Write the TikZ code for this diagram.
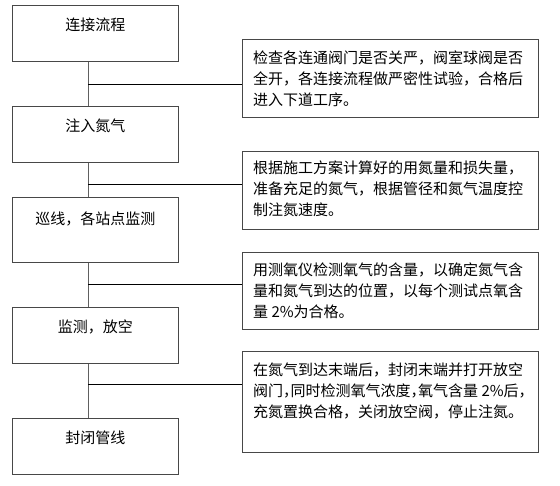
\documentclass[tikz,border=0pt]{standalone}
\usepackage{fontspec}
\usepackage{tikz}
\usetikzlibrary{positioning}
\newfontfamily\cjk{Noto Sans CJK SC}
\newfontfamily\cjkhalt[RawFeature=+halt]{Noto Sans CJK SC}
\definecolor{framegray}{RGB}{72, 72, 72}
\definecolor{linkgray}{RGB}{96, 96, 96}

\begin{document}
\begin{tikzpicture}[
    x=1pt, y=-1pt,
    % Box Styles
    stage/.style={rectangle, draw=framegray, line width=0.9pt, anchor=north west, minimum width=166pt, minimum height=56pt, inner sep=0pt},
    stagetext/.style={anchor=center, yshift=-19.5pt, inner sep=0pt, font=\cjk\fontsize{15}{21}\selectfont},
    note/.style={rectangle, draw=framegray, line width=0.9pt, anchor=north west, minimum width=296pt, inner sep=0pt},
    notetext/.style={anchor=north west, xshift=11pt, yshift=-12pt, inner sep=0pt, align=left, font=\cjk\fontsize{15}{21}\selectfont},
    % Line Styles
    spine/.style={line width=0.9pt, color=linkgray},
    branch/.style={line width=0.9pt, color=black}
]
    \useasboundingbox (0,0) rectangle (560,485);

    % =========================================================================
    % 1. LEFT: PROCESS STAGES
    % =========================================================================
    \node (s1) [stage, label={[stagetext]north:连接流程}] at (12,5) {};
    \node (s2) [stage, label={[stagetext]north:注入氮气}] at (12,106) {};
    \node (s3) [stage, minimum height=65pt, label={[stagetext, yshift=-2pt]north:巡线，各站点监测}] at (12,197) {};
    \node (s4) [stage, label={[stagetext]north:监测，放空}] at (12,307) {};
    \node (s5) [stage, label={[stagetext]north:封闭管线}] at (12,418) {};

    % =========================================================================
    % 2. RIGHT: STAGE NOTES
    % =========================================================================
    \node (n1) [note, minimum height=78pt, label={[notetext]north west:%
      检查各连通阀门是否关严，阀室球阀是否\\
      全开，各连接流程做严密性试验，合格后\\
      进入下道工序。}] at (242,39) {};
    \node (n2) [note, minimum height=78pt, label={[notetext, yshift=2pt]north west:%
      根据施工方案计算好的用氮量和损失量，\\
      准备充足的氮气，根据管径和氮气温度控\\
      制注氮速度。}] at (242,151) {};
    \node (n3) [note, minimum height=77pt, label={[notetext, yshift=1pt]north west:%
      用测氧仪检测氧气的含量，以确定氮气含\\
      量和氮气到达的位置，以每个测试点氧含\\
      量 2\%为合格。}] at (242,252) {};
    \node (n4) [note, minimum height=101pt, label={[notetext]north west:%
      在氮气到达末端后，封闭末端并打开放空\\
      阀门{\cjkhalt ，}同时检测氧气浓度{\cjkhalt ，}氧气含量 2\%后{\cjkhalt ，}\\
      充氮置换合格，关闭放空阀，停止注氮。}] at (242,351) {};

    % =========================================================================
    % CONNECTIONS
    % =========================================================================
    \coordinate (j1) at (88,84);
    \coordinate (j2) at (88,184);
    \coordinate (j3) at (88,284);
    \coordinate (j4) at (88,384);

    % 1. Stage chain
    \draw[spine] (s1.south -| j1) -- (s2.north -| j1);
    \draw[spine] (s2.south -| j2) -- (s3.north -| j2);
    \draw[spine] (s3.south -| j3) -- (s4.north -| j3);
    \draw[spine] (s4.south -| j4) -- (s5.north -| j4);

    % 2. Branches to notes
    \draw[branch] (j1) -- (j1 -| n1.west);
    \draw[branch] (j2) -- (j2 -| n2.west);
    \draw[branch] (j3) -- (j3 -| n3.west);
    \draw[branch] (j4) -- (j4 -| n4.west);

\end{tikzpicture}
\end{document}
